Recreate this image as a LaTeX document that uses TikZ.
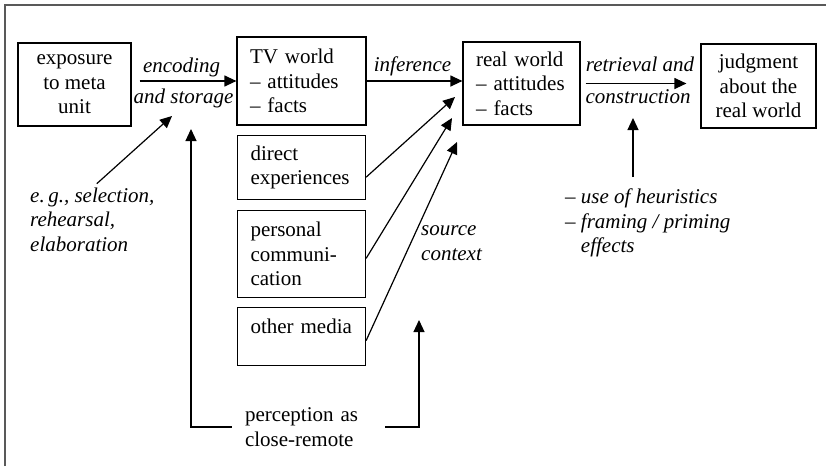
\documentclass[tikz,border=0pt]{standalone}
\usepackage{fontspec}
\setmainfont{Liberation Serif}
\usetikzlibrary{positioning,arrows.meta}
\begin{document}
\begin{tikzpicture}[x=1pt,y=-1pt,
    every node/.style={font=\fontsize{21}{24.5}\selectfont},
    box/.style={draw,line width=1.2pt,inner xsep=13pt,inner ysep=3pt},
    cbox/.style={box,align=center},
    lbox/.style={box,align=left,text width=102pt},
    lab/.style={font=\fontsize{21}{24.5}\selectfont\itshape,inner sep=0pt},
    arr/.style={line width=1.2pt,-{Triangle[length=12pt,width=11pt]}},
    frame/.style={line width=1.5pt,gray!70!black}]
  \useasboundingbox (0,0) rectangle (826,466);
  \draw[frame] (5,466) -- (5,5) -- (826,5);
  \node[cbox,minimum width=113pt,minimum height=83pt](expo) at (74.5,84.5){exposure\\to meta\\unit};
  \node[lbox,text width=103pt,minimum height=88pt](tv) at (301.5,81){TV world\\-- attitudes\\-- facts};
  \node[lbox,text width=91pt,minimum height=83pt](real) at (521.5,83.5){real world\\-- attitudes\\-- facts};
  \node[cbox,minimum width=115pt,minimum height=84pt](judg) at (758.5,86){judgment\\about the\\real world};
  \node[lbox,minimum height=64pt,below=9pt of tv](direct){direct\\experiences};
  \node[lbox,minimum height=87pt,below=10pt of direct](pers){personal\\communi-\\cation};
  \node[lbox,text height=23pt,text depth=29pt,below=9pt of pers](other){other~media};
  \node[lab,anchor=base](enc1) at (181.5,72){encoding};
  \node[lab,anchor=base](enc2) at (183.5,103.5){and storage};
  \node[lab,anchor=base](inf) at (412.5,71){inference};
  \node[lab,anchor=base](ret1) at (640,71){retrieval and};
  \node[lab,anchor=base](ret2) at (638,103){construction};
  \node[lab,align=left,anchor=north west](heur) at (565,188.7){-- use of heuristics\\-- framing / priming\\\hphantom{-- }effects};
  \node[lab,align=left,anchor=north west](eg) at (30,187.7){e.\,g., selection,\\rehearsal,\\elaboration};
  \node[lab,align=left,anchor=north west](src) at (421,225.5){source\\context};
  \node[align=left,text width=127pt,inner xsep=13pt,inner ysep=0pt](perc) at (308.5,427){perception as\\close-remote};
  \coordinate (rettip) at (633,118);
  \coordinate (egtip) at (172,116);
  \coordinate (t1) at (455,97);
  \coordinate (t2) at (452,118);
  \coordinate (t3) at (457,142);
  \coordinate (pl) at (191,129);
  \coordinate (pr) at (419,320);
  \draw[arr,shorten <=8pt] (expo.east |- tv.west) -- (tv.west);
  \draw[arr] (tv.east) -- (tv.east -| real.west);
  \draw[arr,shorten <=5pt,shorten >=14pt] (real.east) -- (real.east -| judg.west);
  \draw[arr,shorten <=11.7pt] (heur.north -| rettip) -- (rettip);
  \draw[arr,shorten <=6pt] (eg.north) -- (egtip);
  \draw[arr] ([yshift=-10pt]direct.east) -- (t1);
  \draw[arr] ([yshift=-4.5pt]pers.east) -- (t2);
  \draw[arr] ([yshift=-4pt]other.east) -- (t3);
  \draw[arr] (perc.west) -| (pl);
  \draw[arr] (perc.east) -| (pr);
\end{tikzpicture}
\end{document}
